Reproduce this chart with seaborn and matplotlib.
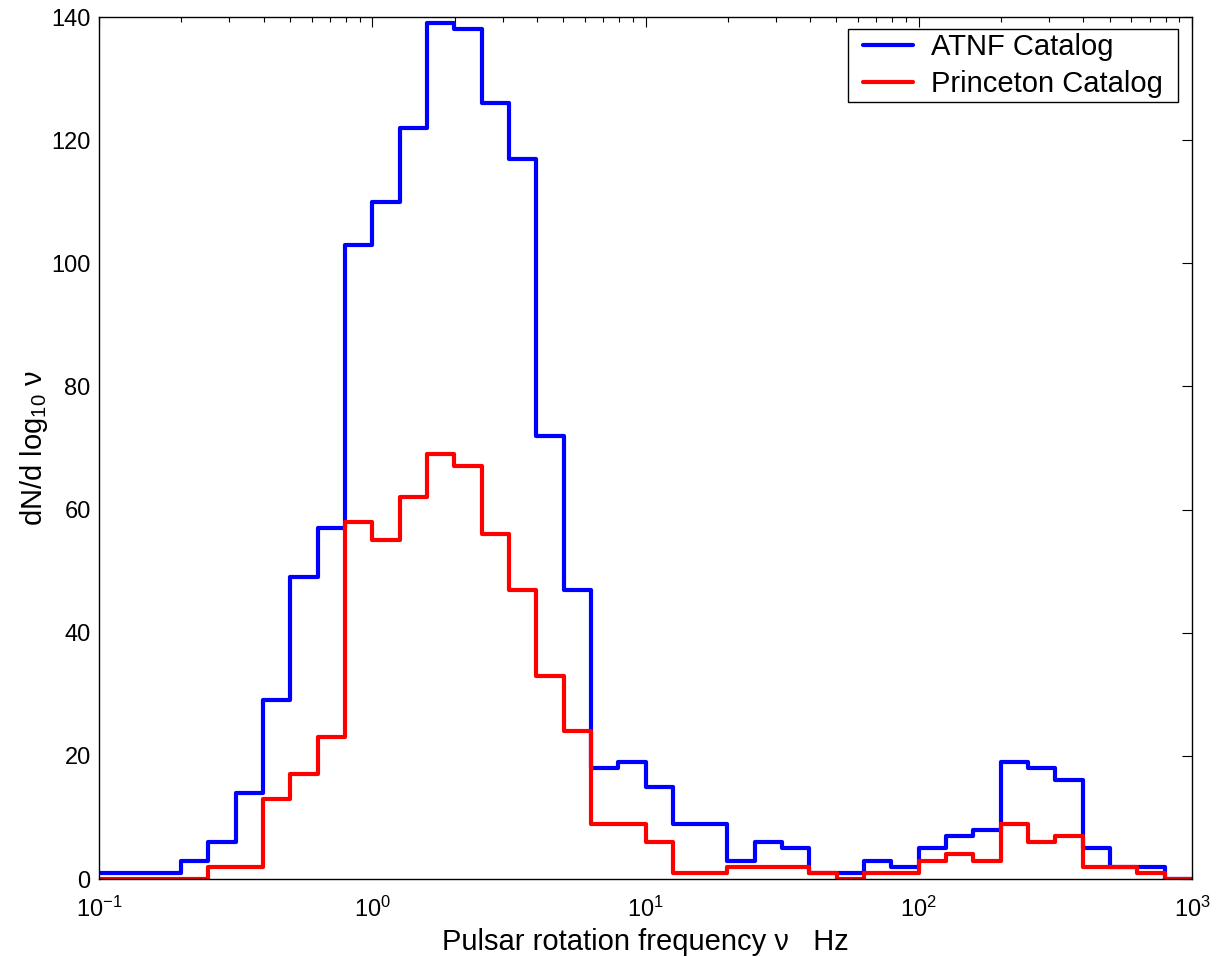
import numpy as np
import pandas as pd
import matplotlib
matplotlib.use("Agg")
import matplotlib.pyplot as plt
from matplotlib.lines import Line2D
from matplotlib.patches import Rectangle
import seaborn as sns

# ---- data: histogram of log10(rotation frequency), bins of 0.1 dex from 10^-1 to 10^3
log_bin_start = np.round(np.arange(-1.0, 3.0, 0.1), 1)   # left edges in log10(Hz)
atnf_counts = [1, 1, 1, 3, 6, 14, 29, 49, 57, 103,
               110, 122, 139, 138, 126, 117, 72, 47, 18, 19,
               15, 9, 9, 3, 6, 5, 1, 1, 3, 2,
               5, 7, 8, 19, 18, 16, 5, 2, 2, 0]
princeton_counts = [0, 0, 0, 0, 2, 2, 13, 17, 23, 58,
                    55, 62, 69, 67, 56, 47, 33, 24, 9, 9,
                    6, 1, 1, 2, 2, 2, 1, 0, 1, 1,
                    3, 4, 3, 9, 6, 7, 2, 2, 1, 0]
series_names = ["ATNF Catalog", "Princeton Catalog"]
series_colors = ["#0000ff", "#ff0000"]

bin_centers_hz = 10 ** (log_bin_start + 0.05)
df = pd.DataFrame({
    "freq": np.concatenate([bin_centers_hz, bin_centers_hz]),
    "count": np.concatenate([atnf_counts, princeton_counts]),
    "catalog": [series_names[0]] * len(atnf_counts) + [series_names[1]] * len(princeton_counts),
})

sns.set_theme(style="white")
plt.rcParams["font.family"] = ["Liberation Sans", "DejaVu Sans"]
plt.rcParams["mathtext.fontset"] = "custom"
plt.rcParams["mathtext.rm"] = "Liberation Sans"
plt.rcParams["mathtext.it"] = "Liberation Sans:italic"
plt.rcParams["mathtext.bf"] = "Liberation Sans:bold"
plt.rcParams["text.color"] = "black"
plt.rcParams["axes.labelcolor"] = "black"

W, H = 1216, 957
fig = plt.figure(figsize=(W / 100, H / 100), dpi=100)
ax = fig.add_axes([99 / W, 1 - 879 / H, (1192 - 99) / W, (879 - 17) / H])

for name, color in zip(series_names, series_colors):
    sub = df[df["catalog"] == name]
    sns.histplot(data=sub, x="freq", weights="count", binwidth=0.1, binrange=(-1, 3),
                 log_scale=True, element="step", fill=False, color=color,
                 linewidth=3.0, ax=ax, legend=False)

ax.set_xlim(0.1, 1000)
ax.set_ylim(0, 140)
ax.set_yticks(np.arange(0, 141, 20))

for s in ax.spines.values():
    s.set_color("black")
    s.set_linewidth(1.0)
    s.set_visible(True)

ax.tick_params(axis="both", which="both", direction="in", top=True, right=True,
               colors="black", labelcolor="black")
ax.tick_params(axis="both", which="major", length=7, width=0.8, labelsize=17)
ax.tick_params(axis="y", which="major", pad=6)
ax.tick_params(axis="x", which="major", pad=13)
ax.tick_params(axis="x", which="minor", length=3.6, width=0.8)

ax.set_xlabel("Pulsar rotation frequency ν   Hz", fontsize=21, labelpad=4)
ax.set_ylabel(r"dN/d log$_{10}$ ν", fontsize=21, labelpad=1)

handles = [Line2D([], [], color=c, lw=3.0) for c in series_colors]
leg = ax.legend(handles, series_names, loc="upper right",
                bbox_to_anchor=((1163 - 99) / 1093, 1 - (33 - 17) / 862),
                fontsize=21, frameon=False, borderaxespad=0, borderpad=0,
                handlelength=1.7, handletextpad=0.62, labelspacing=0.32)

# MATLAB-style legend box: wider horizontal padding than vertical
fig.canvas.draw()
bb = leg.get_window_extent()
padx, pady = 15, 4
fig.add_artist(Rectangle(((bb.x0 - padx) / W, (bb.y0 - pady) / H),
                         (bb.width + 2 * padx) / W, (bb.height + 2 * pady) / H,
                         transform=fig.transFigure, fill=True, facecolor="white",
                         edgecolor="black", linewidth=1.0, zorder=4))
leg.set_zorder(5)
leg.remove()
fig.add_artist(leg)

fig.savefig("out.png", dpi=100, facecolor="white")
